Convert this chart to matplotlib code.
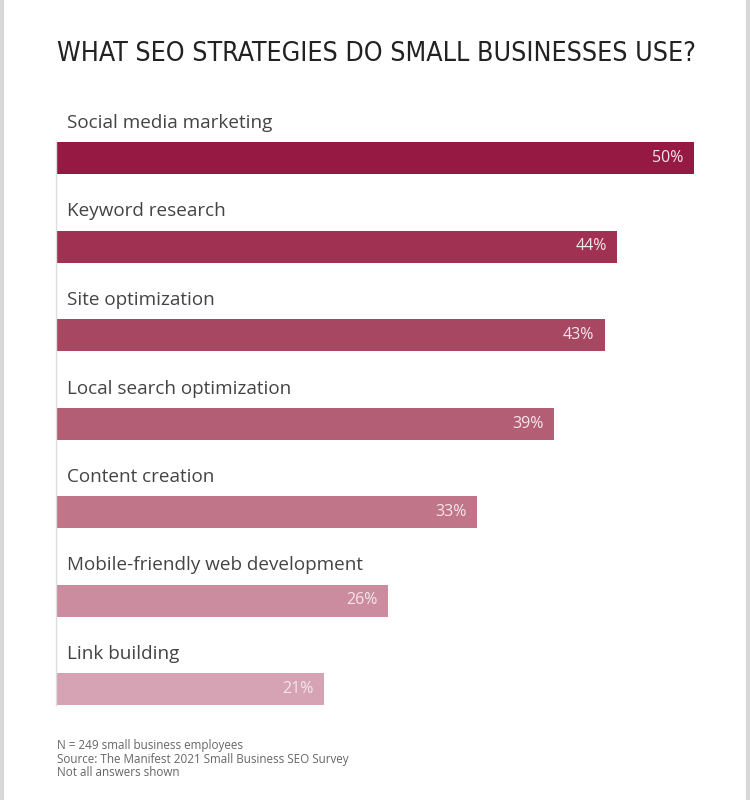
import matplotlib
matplotlib.use("Agg")
import matplotlib.pyplot as plt
from matplotlib.lines import Line2D

categories = ["Social media marketing", "Keyword research", "Site optimization",
              "Local search optimization", "Content creation",
              "Mobile-friendly web development", "Link building"]
values = [50, 44, 43, 39, 33, 26, 21]
colors = ["#951942", "#A03152", "#A84762", "#B45E75", "#C07589", "#CB8C9F", "#D5A3B3"]
title = "WHAT SEO STRATEGIES DO SMALL BUSINESSES USE?"
notes = ["N = 249 small business employees",
         "Source: The Manifest 2021 Small Business SEO Survey",
         "Not all answers shown"]

W, H = 750, 800
fig = plt.figure(figsize=(W/100, H/100), dpi=100)
fig.patch.set_facecolor("white")

left_px, right_px, top_px, bot_px = 56, 694, 100, 720
ax = fig.add_axes([left_px/W, 1-bot_px/H, (right_px-left_px)/W, (bot_px-top_px)/H])
sp = 88.5
y = list(range(len(categories)))
bh = 32/sp
ax.barh(y, values, height=bh, color=colors, edgecolor="none")
ax.set_xlim(0, 50)
ax.set_ylim((bot_px-158)/sp, (top_px-158)/sp)
for s in ["top", "right", "bottom"]:
    ax.spines[s].set_visible(False)
ax.spines["left"].set_color("#dddddd")
ax.spines["left"].set_linewidth(1)
ax.spines["left"].set_bounds(-bh/2, len(categories)-1+bh/2)
ax.set_xticks([]); ax.set_yticks([])
ax.patch.set_alpha(0)

lab_font = ["Open Sans", "DejaVu Sans"]
for i, (c, v) in enumerate(zip(categories, values)):
    ax.text(0.85, i - 35/sp, c, ha="left", va="center", fontsize=13.6,
            color="#444444", family=lab_font)
    ax.text(v - 0.8, i, f"{v}%", ha="right", va="center", fontsize=11.5,
            color="#f6e6ec", family=lab_font)

t = fig.text(57/W, 1-54/H, title, ha="left", va="center", fontsize=20,
             color="#222222", family=["DejaVu Sans"], fontstretch="condensed")
r = fig.canvas.get_renderer()
wpx = t.get_window_extent(r).width
t.set_fontsize(20 * 636 / wpx)

for k, n in enumerate(notes):
    fig.text(57/W, 1-(745+14*k)/H, n, ha="left", va="center", fontsize=8.4,
             color="#666666", family=lab_font)

fig.add_artist(Line2D([2/W, 2/W], [0, 1], color="#d8d8d8", lw=3, transform=fig.transFigure))
fig.add_artist(Line2D([748/W, 748/W], [0, 1], color="#d8d8d8", lw=3, transform=fig.transFigure))

fig.savefig("out.png", dpi=100, facecolor="white")
